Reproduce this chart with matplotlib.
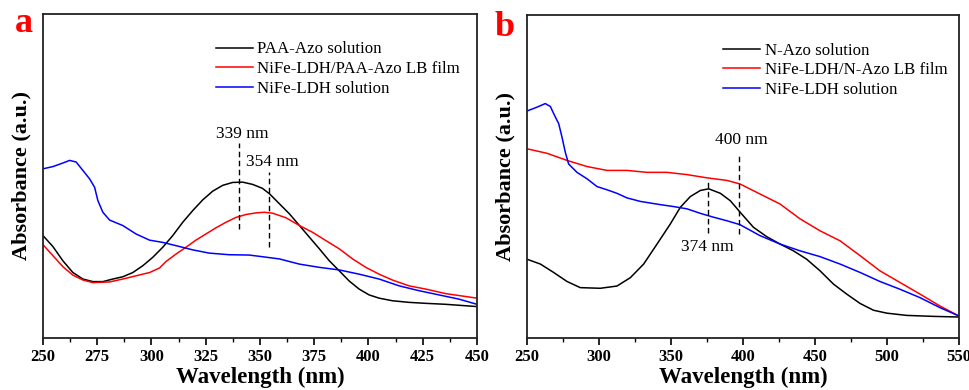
import matplotlib
matplotlib.use("Agg")
import matplotlib.pyplot as plt

plt.rcParams['font.family'] = ['Liberation Serif', 'DejaVu Serif']

# panel a: PAA-Azo
wl_a_black = [250, 254.6, 259.2, 263.8, 268.4, 273, 277.6, 282.2, 286.8, 291.4, 296, 300.6,
              305.2, 309.8, 314.4, 319, 323.6, 328.2, 332.8, 337.4, 342, 346.6, 351.1,
              354.4, 359, 363.6, 368.2, 372.8, 377.4, 382, 386.6, 391.1, 395.7, 400.3,
              404.9, 411, 418.7, 426.4, 435.6, 450]
abs_a_black = [0.316, 0.282, 0.238, 0.202, 0.182, 0.174, 0.174, 0.182, 0.189, 0.202, 0.223,
               0.249, 0.28, 0.316, 0.357, 0.393, 0.426, 0.453, 0.471, 0.48, 0.481, 0.474,
               0.462, 0.445, 0.414, 0.383, 0.347, 0.311, 0.275, 0.238, 0.207, 0.176, 0.151,
               0.133, 0.123, 0.115, 0.11, 0.107, 0.104, 0.097]
wl_a_red = [250, 254.6, 259.2, 263.8, 268.4, 273, 280.7, 286.8, 292.9, 299.1, 303.7, 306.7,
            311.3, 315.9, 320.5, 325.1, 329.7, 334.3, 338.9, 343.5, 348.1, 352, 355.9, 362,
            368.2, 374.3, 380.5, 386.6, 392.7, 398.8, 404.9, 411, 418.7, 426.4, 435.6, 450]
abs_a_red = [0.288, 0.254, 0.22, 0.194, 0.179, 0.171, 0.173, 0.182, 0.192, 0.202, 0.216,
             0.236, 0.259, 0.28, 0.302, 0.321, 0.34, 0.357, 0.372, 0.381, 0.386, 0.388,
             0.385, 0.371, 0.347, 0.326, 0.30, 0.275, 0.244, 0.218, 0.197, 0.179, 0.161,
             0.151, 0.137, 0.123]
wl_a_blue = [250, 254.6, 259.2, 262.3, 265.3, 268.4, 271.5, 273.8, 275.3, 277.6, 280.7,
             286.8, 292.9, 299.1, 305.2, 311.3, 319, 326.6, 335.8, 345, 349.8, 359, 368.2,
             377.4, 386.6, 395.7, 404.9, 414.1, 423.3, 432.5, 441.7, 450]
abs_a_blue = [0.522, 0.529, 0.54, 0.548, 0.543, 0.517, 0.491, 0.465, 0.424, 0.388, 0.364,
              0.347, 0.321, 0.302, 0.295, 0.285, 0.272, 0.262, 0.257, 0.256, 0.252, 0.244,
              0.228, 0.218, 0.21, 0.197, 0.182, 0.161, 0.146, 0.133, 0.12, 0.104]
labels_a = ['PAA-Azo solution', 'NiFe-LDH/PAA-Azo LB film', 'NiFe-LDH solution']
peaks_a = [340.4, 354.0]
peak_lo_a = [0.337, 0.28]
peak_hi_a = [0.601, 0.512]
peak_text_a = ['339 nm', '354 nm']
peak_text_xy_a = [(342, 0.628), (355.7, 0.543)]

# panel b: N-Azo
wl_b_black = [250, 259.3, 268.5, 277.8, 287, 300.9, 312.5, 321.8, 331, 340.3, 349.5, 356.5,
              363.4, 370.4, 376.2, 384.3, 391.2, 398.1, 407.2, 416.4, 425.7, 435, 444.2,
              453.5, 462.8, 472, 481.3, 490.6, 499.8, 513.7, 532.2, 550]
abs_b_black = [0.244, 0.229, 0.203, 0.175, 0.156, 0.154, 0.161, 0.187, 0.229, 0.291, 0.353,
               0.405, 0.438, 0.457, 0.462, 0.448, 0.425, 0.389, 0.343, 0.314, 0.291, 0.27,
               0.244, 0.208, 0.167, 0.136, 0.107, 0.086, 0.077, 0.07, 0.067, 0.065]
wl_b_red = [250, 263.9, 277.8, 291.7, 305.6, 319.4, 333.3, 347.2, 361.1, 375, 388.9, 397.9,
            411.8, 425.7, 439.6, 453.5, 467.4, 481.3, 495.1, 509, 522.9, 536.8, 550]
abs_b_red = [0.586, 0.572, 0.55, 0.531, 0.519, 0.519, 0.513, 0.513, 0.506, 0.496, 0.488,
             0.477, 0.446, 0.415, 0.369, 0.332, 0.301, 0.255, 0.208, 0.172, 0.136, 0.099,
             0.068]
wl_b_blue = [250, 257, 262.7, 266.2, 269.7, 272, 274.3, 276.6, 278.9, 284.7, 291.7, 298.6,
             305.6, 312.5, 319.4, 328.7, 342.6, 351.9, 361.1, 370.4, 379.6, 388.9, 397.9,
             411.8, 425.7, 439.6, 453.5, 467.4, 481.3, 495.1, 509, 522.9, 536.8, 550]
abs_b_blue = [0.703, 0.715, 0.726, 0.717, 0.684, 0.664, 0.622, 0.575, 0.539, 0.513, 0.493,
              0.469, 0.459, 0.448, 0.434, 0.423, 0.413, 0.407, 0.40, 0.386, 0.374, 0.363,
              0.351, 0.317, 0.291, 0.27, 0.252, 0.229, 0.203, 0.175, 0.151, 0.125, 0.094,
              0.068]
labels_b = ['N-Azo solution', 'NiFe-LDH/N-Azo LB film', 'NiFe-LDH solution']
peaks_b = [375.8, 397.3]
peak_lo_b = [0.326, 0.321]
peak_hi_b = [0.486, 0.574]
peak_text_b = ['374 nm', '400 nm']
peak_text_xy_b = [(375.3, 0.283), (398.5, 0.613)]

colors = ['black', '#ff0000', '#0000ff']

fig = plt.figure(figsize=(9.7, 3.9), dpi=100)
ax_a = fig.add_axes([0.0443, 0.1333, 0.4474, 0.831])
ax_b = fig.add_axes([0.5433, 0.1333, 0.4454, 0.828])


def draw_panel(ax, series, labels, xlim, major, peaks, lo, hi, ptext, pxy, leg_x):
    for (wl, ab), c, lab in zip(series, colors, labels):
        ax.plot(wl, ab, color=c, lw=1.1, label=lab)
    for x, y0, y1 in zip(peaks, lo, hi):
        ax.plot([x, x], [y0, y1], color='black', lw=1.0, ls=(0, (4, 2.5)))
    for t, (tx, ty) in zip(ptext, pxy):
        ax.text(tx, ty, t, fontsize=12.5, ha='center', va='center')
    ax.set_xlim(*xlim)
    ax.set_ylim(0, 1)
    ax.set_xticks(range(xlim[0], xlim[1] + 1, major))
    ax.set_xticks([v + major / 2 for v in range(xlim[0], xlim[1], major)], minor=True)
    ax.set_yticks([])
    ax.tick_params(axis='x', which='major', direction='out', length=5, width=1.2,
                   labelsize=12, pad=3)
    ax.tick_params(axis='x', which='minor', direction='out', length=3, width=1.0)
    for lbl in ax.get_xticklabels():
        lbl.set_fontweight('bold')
    for s in ax.spines.values():
        s.set_linewidth(1.3)
        s.set_color('#222222')
    ax.set_xlabel('Wavelength (nm)', fontsize=16.5, fontweight='bold', labelpad=1)
    ax.set_ylabel('Absorbance (a.u.)', fontsize=16, fontweight='bold', labelpad=8)
    ax.legend(loc='upper left', bbox_to_anchor=(leg_x, 0.915), frameon=False,
              fontsize=12.2, handlelength=2.2, handletextpad=0.25, labelspacing=0.22,
              borderpad=0, borderaxespad=0)


draw_panel(ax_a, [(wl_a_black, abs_a_black), (wl_a_red, abs_a_red), (wl_a_blue, abs_a_blue)],
           labels_a, (250, 450), 25, peaks_a, peak_lo_a, peak_hi_a, peak_text_a,
           peak_text_xy_a, 0.398)
draw_panel(ax_b, [(wl_b_black, abs_b_black), (wl_b_red, abs_b_red), (wl_b_blue, abs_b_blue)],
           labels_b, (250, 550), 50, peaks_b, peak_lo_b, peak_hi_b, peak_text_b,
           peak_text_xy_b, 0.454)

fig.text(24 / 970, 1 - 24 / 390, 'a', color='#ff0000', fontsize=26, fontweight='bold',
         ha='center', va='center')
fig.text(505 / 970, 1 - 27 / 390, 'b', color='#ff0000', fontsize=26, fontweight='bold',
         ha='center', va='center')

fig.savefig('out.png', dpi=100)
